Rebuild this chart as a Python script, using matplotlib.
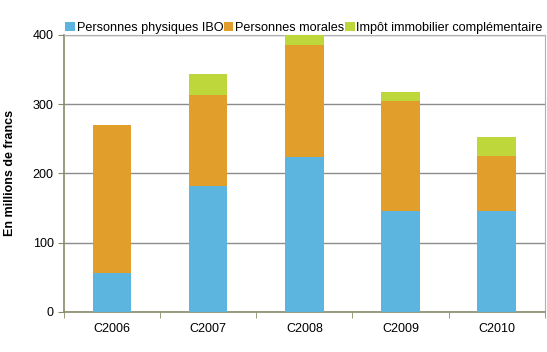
import matplotlib.pyplot as plt
import numpy as np

plt.rcParams["font.family"] = ["Liberation Sans", "DejaVu Sans"]

# Recettes par catégorie d'impôt (millions de francs)
annees = ["C2006", "C2007", "C2008", "C2009", "C2010"]
physiques_ibo = [56, 182, 224, 146, 146]
morales = [214, 131, 161, 158, 79]
immobilier = [0, 31, 16, 14, 28]

couleurs = ["#5BB5DF", "#E29E2B", "#BED83C"]
noms = ["Personnes physiques IBO", "Personnes morales", "Impôt immobilier complémentaire"]

fig = plt.figure(figsize=(5.47, 3.52), dpi=100)
ax = fig.add_axes([0.117, 0.114, 0.879, 0.787])

x = np.arange(len(annees))
bas = np.zeros(len(annees))
for serie, coul, nom in zip([physiques_ibo, morales, immobilier], couleurs, noms):
    ax.bar(x, serie, width=0.4, bottom=bas, color=coul, label=nom, zorder=3)
    bas += np.array(serie)

ax.set_xlim(-0.5, len(annees) - 0.5)
ax.set_ylim(0, 400)
ax.set_yticks([0, 100, 200, 300, 400])
ax.yaxis.grid(True, color="#8c8c8c", linewidth=1, zorder=0)

ax.set_xticks(x)
ax.set_xticklabels(annees)
ax.set_xticks(np.arange(len(annees) + 1) - 0.5, minor=True)
ax.tick_params(axis="x", which="major", length=0, pad=8, labelsize=9)
ax.tick_params(axis="x", which="minor", length=4, color="#8a8a6a")
ax.tick_params(axis="y", length=4, color="#8a8a6a", labelsize=9)

for cote in ["top", "right"]:
    ax.spines[cote].set_color("#b0b0b0")
for cote in ["left", "bottom"]:
    ax.spines[cote].set_color("#8a8a6a")
    ax.spines[cote].set_linewidth(1.2)

ax.set_ylabel("En millions de francs", fontweight="bold", fontsize=9, labelpad=12)

ax.legend(loc="lower left", bbox_to_anchor=(0.0, 1.0), ncol=3, frameon=False,
          fontsize=9.1, handlelength=0.75, handleheight=0.75, handletextpad=0.15,
          columnspacing=0.05, borderaxespad=0, borderpad=0.1)

fig.savefig("out.png", dpi=100)
